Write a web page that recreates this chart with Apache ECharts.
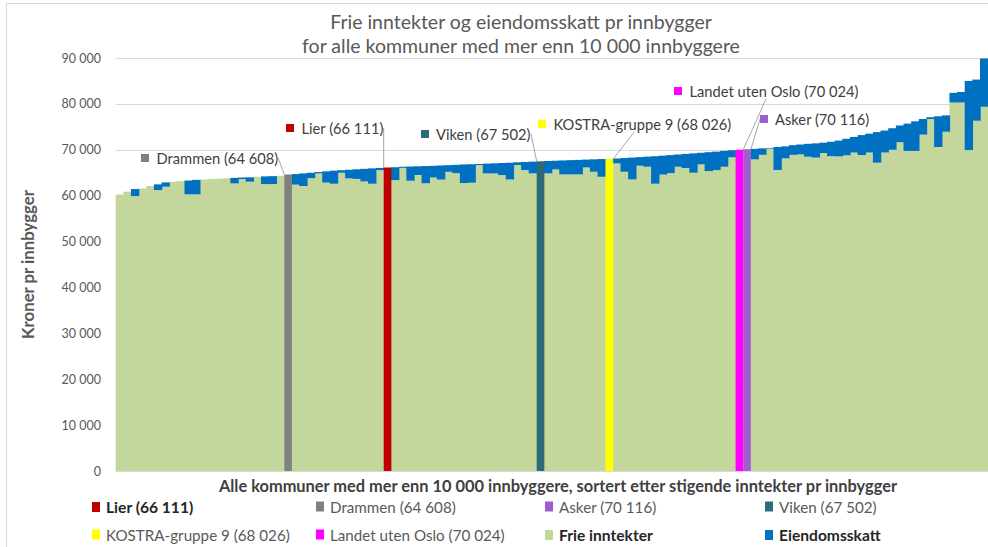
<!DOCTYPE html>
<html>
<head>
<meta charset="utf-8">
<script src="https://cdn.jsdelivr.net/npm/echarts@6/dist/echarts.min.js"></script>
<style>
  html, body { margin: 0; padding: 0; background: #ffffff; }
  #chart { width: 988px; height: 547px; }
</style>
</head>
<body>
<div id="chart"></div>
<script>
// Kommuner sortert etter stigende inntekter pr innbygger (frie inntekter + eiendomsskatt)
const frieInntekter = [
  60280, 60860, 59910, 61580, 62090, 61220, 61950, 63050, 63180, 60280,
  60280, 63540, 63620, 63700, 63800, 62670, 63600, 63040, 64100, 62530,
  62530, 64350, null,  62400, 62100, 63800, 64850, 62850, 62600, 65000,
  63760, 63650, 63100, 62600, 65580, null,  63400, 66050, 63250, 64500,
  62700, 63950, 63500, 65200, 64900, 62750, 62820, 66670, 64850, 64850,
  64490, 63540, 66670, 65580, 64850, null,  64850, 65720, 64630, 64630,
  64630, 66150, 65210, 64120, null,  67030, 65210, 63540, 66520, 66300,
  62600, 64600, 64900, 66300, 66000, 65000, 66810, 65360, 65580, 66300,
  68340, null,  null,  67900, 68900, 70250, 65600, 68120, 68900, 69000,
  68480, 68300, 69300, 68600, 68550, 68800, 69400, 68850, 69400, 67180,
  69400, 70000, 71650, 69750, 69750, 73300, 76700, 70600, 73930, 80300,
  80300, 69940, 76320, 79370
];
const eiendomsskatt = [
  0,    0,    1530, 0,    0,    1240, 940,  0,    0,    3020,
  3170, 0,    0,    0,    0,    1210, 350,  960,  0,    1670,
  1720, 0,    null, 2300, 2750, 1200, 300,  2450, 2850, 550,
  1890, 2100, 2750, 3350, 470,  null, 2800, 250,  3100, 1900,
  3750, 2550, 3080, 1450, 1820, 4050, 4030, 230,  2130, 2200,
  2630, 3660, 610,  1770, 2570, null, 2710, 1900, 3050, 3110,
  3170, 1710, 2710, 3860, null, 1070, 2990, 4760, 1880, 2200,
  6000, 4120, 3950, 2670, 3100, 4220, 2540, 4120, 4020, 3450,
  1560, null, null, 2300, 1400, 150,  5000, 2630, 2100, 2150,
  2820, 3100, 2250, 3150, 3450, 3600, 3400, 4350, 4100, 6670,
  4800, 4700, 3650, 5950, 6450, 3400, 400,  6700, 3570, 2100,
  2300, 15060, 8980, 10530
];

// Utvalgte kommuner og sammenligningsgrupper (sum frie inntekter og eiendomsskatt)
const utvalgNavn  = ['Lier', 'Drammen', 'Asker', 'Viken', 'KOSTRA-gruppe 9', 'Landet uten Oslo'];
const utvalgVerdi = [66111, 64608, 70116, 67502, 68026, 70024];
const utvalgPlass = [35, 22, 82, 55, 64, 81];

// Akseverdier
const yTicks = [0, 10000, 20000, 30000, 40000, 50000, 60000, 70000, 80000, 90000];

const categories = frieInntekter.map((v, i) => {
  const k = utvalgPlass.indexOf(i);
  return k >= 0 ? utvalgNavn[k] : 'Kommune ' + (i + 1);
});

const fmt = n => String(n).replace(/\B(?=(\d{3})+(?!\d))/g, ' ');

const FONT = 'Lato, "Open Sans", sans-serif';
const TEXT = '#595959';
const farger = {
  'Lier': '#c00000',
  'Drammen': '#808080',
  'Asker': '#9c5fcc',
  'Viken': '#2e6b7a',
  'KOSTRA-gruppe 9': '#ffff00',
  'Landet uten Oslo': '#ff00ff'
};
const GRONN = '#c3d69b';
const BLA = '#0070c0';

// Stablede søyler: [kategori, fra, til]
const gronnData = [];
const blaData = [];
frieInntekter.forEach((f, i) => {
  if (f == null) return;
  gronnData.push([i, 0, f]);
  const e = eiendomsskatt[i];
  if (e) blaData.push([i, f, f + e]);
});

// Tegner en søyle som dekker hele kategoribredden, med en liten overlapp mot naboene
function tegnSoyle(farge) {
  return function (params, api) {
    const i = api.value(0);
    const bunn = api.coord([i, api.value(1)]);
    const topp = api.coord([i, api.value(2)]);
    const w = api.size([1, 0])[0];
    return {
      type: 'rect',
      shape: {
        x: bunn[0] - w / 2 - 0.35,
        y: topp[1],
        width: w + 0.7,
        height: bunn[1] - topp[1]
      },
      style: { fill: farge }
    };
  };
}

// Plassering av forklaringstekstene ved de uthevede søylene
const etikett = {
  'Drammen':          { x: 141, y: 158 },
  'Lier':             { x: 286, y: 128 },
  'Viken':            { x: 421, y: 134 },
  'KOSTRA-gruppe 9':  { x: 538, y: 124 },
  'Landet uten Oslo': { x: 674, y: 91 },
  'Asker':            { x: 760, y: 119 }
};

const utvalgSerier = utvalgNavn.map((navn, k) => {
  const data = categories.map((c, i) => (i === utvalgPlass[k] ? utvalgVerdi[k] : '-'));
  const full = navn + ' (' + fmt(utvalgVerdi[k]) + ')';
  return {
    name: full,
    type: 'bar',
    data: data,
    barGap: '-100%',
    barCategoryGap: '0%',
    itemStyle: { color: farger[navn] },
    label: {
      show: true,
      position: 'top',
      formatter: '{sq|}  ' + full,
      fontFamily: FONT,
      fontSize: 14.7,
      color: '#404040',
      rich: {
        sq: { width: 8, height: 8, backgroundColor: farger[navn] }
      }
    },
    labelLayout: {
      x: etikett[navn].x,
      y: etikett[navn].y,
      align: 'left',
      verticalAlign: 'middle'
    },
    labelLine: {
      show: true,
      lineStyle: { color: '#a6a6a6', width: 1 }
    },
    z: 3
  };
});

const series = [
  {
    name: 'Frie inntekter',
    type: 'custom',
    data: gronnData,
    encode: { x: 0, y: [1, 2] },
    renderItem: tegnSoyle(GRONN),
    itemStyle: { color: GRONN },
    z: 2
  },
  {
    name: 'Eiendomsskatt',
    type: 'custom',
    data: blaData,
    encode: { x: 0, y: [1, 2] },
    renderItem: tegnSoyle(BLA),
    itemStyle: { color: BLA },
    z: 2
  }
].concat(utvalgSerier);

// Forklaring i to rader, fire kolonner
const legendKol = [92, 316, 545, 765];
const legendRad = [499, 527];
const legendRekke = [
  utvalgSerier[0].name, utvalgSerier[1].name, utvalgSerier[2].name, utvalgSerier[3].name,
  utvalgSerier[4].name, utvalgSerier[5].name, 'Frie inntekter', 'Eiendomsskatt'
];
const fet = new Set([utvalgSerier[0].name, 'Frie inntekter', 'Eiendomsskatt']);
const legends = legendRekke.map((navn, n) => ({
  data: [{ name: navn, icon: 'rect', itemStyle: { color: farger[navn.replace(/ \(.*\)$/, '')] || (navn === 'Frie inntekter' ? GRONN : BLA) } }],
  left: legendKol[n % 4],
  top: legendRad[Math.floor(n / 4)],
  icon: 'rect',
  itemWidth: 8,
  itemHeight: 10,
  itemGap: 6,
  padding: 0,
  selectedMode: false,
  textStyle: {
    fontFamily: FONT,
    fontSize: fet.has(navn) ? 15.6 : 15.2,
    color: fet.has(navn) ? '#262626' : TEXT,
    fontWeight: fet.has(navn) ? 'bold' : 'normal',
    padding: [0, 0, 0, 1]
  }
}));

const chart = echarts.init(document.getElementById('chart'), null, { renderer: 'svg' });
chart.setOption({
  animation: false,
  backgroundColor: '#ffffff',
  textStyle: { fontFamily: FONT },
  graphic: [
    {
      type: 'rect',
      shape: { x: 6.5, y: 3.5, width: 1000, height: 600 },
      style: { fill: 'none', stroke: '#d9d9d9', lineWidth: 1 },
      silent: true
    },
    {
      type: 'text',
      x: 521,
      y: 9,
      style: {
        text: 'Frie inntekter og eiendomsskatt pr innbygger\nfor alle kommuner med mer enn 10 000 innbyggere',
        fontFamily: FONT,
        fontSize: 19.5,
        lineHeight: 24,
        fill: TEXT,
        align: 'center',
        verticalAlign: 'top'
      }
    }
  ],
  legend: legends,
  grid: { left: 116, right: 0, top: 58, bottom: 76, containLabel: false },
  xAxis: {
    type: 'category',
    data: categories,
    boundaryGap: true,
    name: 'Alle kommuner med mer enn 10 000 innbyggere, sortert etter stigende inntekter pr innbygger',
    nameLocation: 'middle',
    nameGap: 6,
    nameTextStyle: {
      fontFamily: FONT, fontSize: 16.4, fontWeight: 'bold', color: '#404040',
      padding: [0, 0, 0, 12]
    },
    axisLine: { show: true, lineStyle: { color: '#d9d9d9' } },
    axisTick: { show: false },
    axisLabel: { show: false },
    z: 5
  },
  yAxis: {
    type: 'value',
    min: yTicks[0],
    max: yTicks[yTicks.length - 1],
    interval: yTicks[1] - yTicks[0],
    name: 'Kroner pr innbygger',
    nameLocation: 'middle',
    nameGap: 80,
    nameRotate: 90,
    nameTextStyle: { fontFamily: FONT, fontSize: 16.8, fontWeight: 'bold', color: TEXT },
    axisLine: { show: false },
    axisTick: { show: false },
    axisLabel: {
      margin: 15,
      fontFamily: FONT,
      fontSize: 12.5,
      color: TEXT,
      formatter: v => fmt(v)
    },
    splitLine: { show: true, lineStyle: { color: '#d9d9d9', width: 1 } }
  },
  series: series
});
</script>
</body>
</html>
